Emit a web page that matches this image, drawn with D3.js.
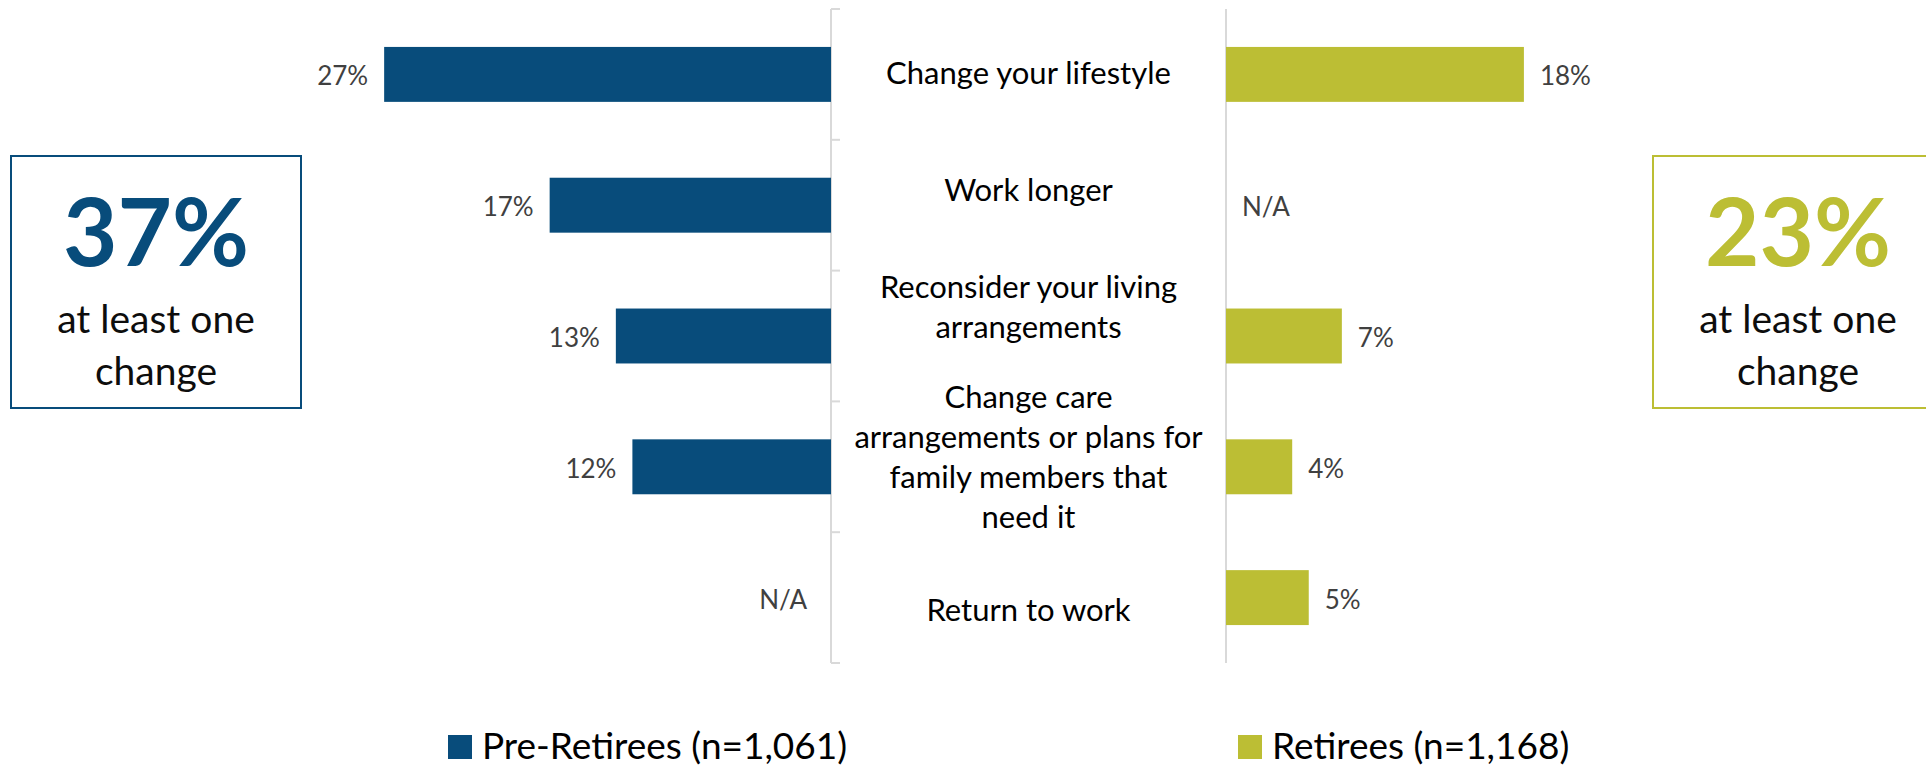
<!DOCTYPE html>
<html>
<head>
<meta charset="utf-8">
<script src="https://cdn.jsdelivr.net/npm/d3@7"></script>
<style>
  body { margin: 0; background: #fff; }
  svg text { font-family: Lato, "Open Sans", sans-serif; }
</style>
</head>
<body>
<div id="chart"></div>
<script>
// data
var categories = [
  "Change your lifestyle",
  "Work longer",
  "Reconsider your living arrangements",
  "Change care arrangements or plans for family members that need it",
  "Return to work"
];
var categoryLines = [
  ["Change your lifestyle"],
  ["Work longer"],
  ["Reconsider your living", "arrangements"],
  ["Change care", "arrangements or plans for", "family members that", "need it"],
  ["Return to work"]
];
var preRetirees = [27, 17, 13, 12, null];
var retirees = [18, null, 7, 4, 5];
var seriesNames = ["Pre-Retirees (n=1,061)", "Retirees (n=1,168)"];
var atLeastOne = [37, 23];

var W = 1926, H = 770;
var blue = "#084c7b", green = "#bcbe34", grid = "#d9d9d9";

var svg = d3.select("#chart").append("svg")
  .attr("width", W)
  .attr("height", H);

// scales
var y = d3.scaleBand()
  .domain(categories)
  .range([9, 663])
  .paddingInner(0.58)
  .paddingOuter(0.29);

var xLeft = d3.scaleLinear().domain([0, 30]).range([831, 334.5]);
var xRight = d3.scaleLinear().domain([0, 30]).range([1226, 1722.5]);

// left axis with ticks between categories
var bounds = categories.map(function(c) { return y(c) - y.step() * y.paddingInner() / 2; });
bounds.push(663);
svg.append("line")
  .attr("x1", 831).attr("x2", 831)
  .attr("y1", 9).attr("y2", 663)
  .attr("stroke", grid).attr("stroke-width", 2);
svg.selectAll(".tick")
  .data(bounds)
  .enter().append("line")
  .attr("x1", 831).attr("x2", 840)
  .attr("y1", function(d) { return d; })
  .attr("y2", function(d) { return d; })
  .attr("stroke", grid).attr("stroke-width", 2);

// right axis
svg.append("line")
  .attr("x1", 1226).attr("x2", 1226)
  .attr("y1", 9).attr("y2", 663)
  .attr("stroke", grid).attr("stroke-width", 2);

var leftData = categories.map(function(c, i) { return {cat: c, v: preRetirees[i]}; });
var rightData = categories.map(function(c, i) { return {cat: c, v: retirees[i]}; });

// bars
svg.selectAll(".barL")
  .data(leftData.filter(function(d) { return d.v != null; }))
  .enter().append("rect")
  .attr("x", function(d) { return xLeft(d.v); })
  .attr("y", function(d) { return y(d.cat); })
  .attr("width", function(d) { return xLeft(0) - xLeft(d.v); })
  .attr("height", y.bandwidth())
  .attr("fill", blue);

svg.selectAll(".barR")
  .data(rightData.filter(function(d) { return d.v != null; }))
  .enter().append("rect")
  .attr("x", xRight(0))
  .attr("y", function(d) { return y(d.cat); })
  .attr("width", function(d) { return xRight(d.v) - xRight(0); })
  .attr("height", y.bandwidth())
  .attr("fill", green);

// value labels
svg.selectAll(".lblL")
  .data(leftData)
  .enter().append("text")
  .attr("x", function(d) { return d.v == null ? xLeft(0) - 24 : xLeft(d.v) - 16; })
  .attr("y", function(d) { return y(d.cat) + y.bandwidth() / 2 + 11; })
  .attr("text-anchor", "end")
  .style("font-size", "26px")
  .attr("fill", "#404040")
  .text(function(d) { return d.v == null ? "N/A" : d.v + "%"; });

svg.selectAll(".lblR")
  .data(rightData)
  .enter().append("text")
  .attr("x", function(d) { return d.v == null ? xRight(0) + 16 : xRight(d.v) + 16; })
  .attr("y", function(d) { return y(d.cat) + y.bandwidth() / 2 + 11; })
  .style("font-size", "26px")
  .attr("fill", "#404040")
  .text(function(d) { return d.v == null ? "N/A" : d.v + "%"; });

// category labels in the middle column (nudged like the original text boxes)
var nudge = [-1, -15, -29, -10, 12];
var midX = (831 + 1226) / 2;
categories.forEach(function(c, i) {
  var lines = categoryLines[i];
  var cy = y(c) + y.bandwidth() / 2 + nudge[i];
  var first = cy - (lines.length - 1) * 20 + 11;
  var t = svg.append("text")
    .attr("text-anchor", "middle")
    .style("font-size", "31px")
    .attr("fill", "#000");
  lines.forEach(function(l, j) {
    t.append("tspan").attr("x", midX).attr("y", first + j * 40).text(l);
  });
});

// summary boxes
var boxes = [
  {cx: 156, color: blue, val: atLeastOne[0]},
  {cx: 1798, color: green, val: atLeastOne[1]}
];
boxes.forEach(function(b) {
  svg.append("rect")
    .attr("x", b.cx - 145).attr("y", 156)
    .attr("width", 290).attr("height", 252)
    .attr("fill", "none")
    .attr("stroke", b.color).attr("stroke-width", 2);
  svg.append("text")
    .attr("x", b.cx).attr("y", 266)
    .attr("text-anchor", "middle")
    .style("font-size", "94px").style("font-weight", "bold")
    .attr("fill", b.color)
    .text(b.val + "%");
  svg.append("text")
    .attr("x", b.cx).attr("y", 333)
    .attr("text-anchor", "middle")
    .style("font-size", "39px")
    .attr("fill", "#0d0d0d")
    .text("at least one");
  svg.append("text")
    .attr("x", b.cx).attr("y", 385)
    .attr("text-anchor", "middle")
    .style("font-size", "39px")
    .attr("fill", "#0d0d0d")
    .text("change");
});

// legend
var legendX = [448, 1238];
var legend = svg.selectAll(".legend")
  .data(seriesNames)
  .enter().append("g")
  .attr("transform", function(d, i) { return "translate(" + legendX[i] + ",735)"; });
legend.append("rect")
  .attr("width", 24).attr("height", 24)
  .attr("fill", function(d, i) { return i === 0 ? blue : green; });
legend.append("text")
  .attr("x", 34).attr("y", 24)
  .style("font-size", "37px")
  .attr("fill", "#000")
  .text(function(d) { return d; });
</script>
</body>
</html>
